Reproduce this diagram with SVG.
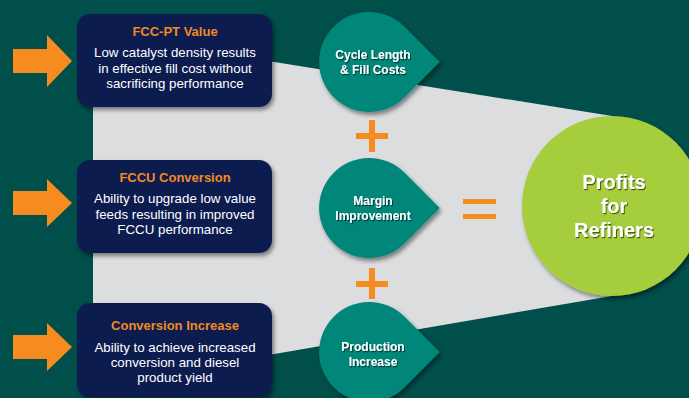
<svg xmlns="http://www.w3.org/2000/svg" width="689" height="398" viewBox="0 0 689 398">
  <defs>
    <filter id="shadow" x="-20%" y="-20%" width="150%" height="150%">
      <feDropShadow dx="2" dy="3" stdDeviation="2" flood-color="#000" flood-opacity="0.45"/>
    </filter>
    <filter id="tshadow" x="-10%" y="-30%" width="130%" height="170%">
      <feDropShadow dx="1" dy="1.2" stdDeviation="0.6" flood-color="#000" flood-opacity="0.6"/>
    </filter>
    <style>
      .box { fill: #0b1d4f; filter: url(#shadow); }
      .title { font-family: "Liberation Sans", Arial, sans-serif; font-size: 13px; font-weight: bold; fill: #f08a24; text-anchor: middle; }
      .body { font-family: "Liberation Sans", Arial, sans-serif; font-size: 13.3px; fill: #ffffff; text-anchor: middle; }
      .drop { fill: #00877a; filter: url(#shadow); }
      .dtext { font-family: "Liberation Sans", Arial, sans-serif; font-size: 12px; font-weight: bold; fill: #ffffff; text-anchor: middle; filter: url(#tshadow); }
      .ptext { font-family: "Liberation Sans", Arial, sans-serif; font-size: 20px; font-weight: bold; fill: #ffffff; text-anchor: middle; filter: url(#tshadow); }
      .arrow { fill: #f68b1f; }
      .op { fill: #f68b1f; }
    </style>
  </defs>

  <!-- background -->
  <rect x="0" y="0" width="689" height="398" fill="#004f4b"/>
  <!-- funnel -->
  <polygon points="93,33 612,116 612,296 93,385" fill="#dcdddf"/>

  <!-- connectors: input arrows -->
  <g id="connectors">
    <polygon class="arrow" points="13,49 47,49 47,35 72,61 47,87 47,73 13,73"/>
    <polygon class="arrow" points="13,191 47,191 47,179 72,203 47,227 47,215 13,215"/>
    <polygon class="arrow" points="13,335 47,335 47,323 72,347 47,371 47,359 13,359"/>
  </g>

  <!-- operators -->
  <g id="operators">
    <rect class="op" x="356" y="133" width="32" height="6"/>
    <rect class="op" x="369" y="120" width="6" height="32"/>
    <rect class="op" x="356" y="281" width="32" height="6"/>
    <rect class="op" x="369" y="268" width="6" height="31"/>
    <rect class="op" x="463" y="199" width="33" height="5"/>
    <rect class="op" x="463" y="214" width="33" height="5"/>
  </g>

  <!-- boxes -->
  <g id="box-fccpt">
    <rect class="box" x="77" y="14" width="195" height="93" rx="13"/>
    <text class="title" x="175" y="36">FCC-PT Value</text>
    <text class="body" x="175" y="57">Low catalyst density results</text>
    <text class="body" x="175" y="73">in effective fill cost without</text>
    <text class="body" x="175" y="88">sacrificing performance</text>
  </g>
  <g id="box-fccu">
    <rect class="box" x="77" y="160" width="195" height="93" rx="13"/>
    <text class="title" x="175" y="182">FCCU Conversion</text>
    <text class="body" x="175" y="203">Ability to upgrade low value</text>
    <text class="body" x="175" y="219">feeds resulting in improved</text>
    <text class="body" x="175" y="234">FCCU performance</text>
  </g>
  <g id="box-conversion">
    <rect class="box" x="77" y="303" width="195" height="94" rx="13"/>
    <text class="title" x="175" y="330">Conversion Increase</text>
    <text class="body" x="175" y="352">Ability to achieve increased</text>
    <text class="body" x="175" y="367">conversion and diesel</text>
    <text class="body" x="175" y="382">product yield</text>
  </g>

  <!-- teardrops -->
  <g id="drop-cycle">
    <path class="drop" d="M439.7,62 L404.4,26.6 A50,50 0 1 0 404.4,97.4 Z"/>
    <text class="dtext" x="373" y="59">Cycle Length</text>
    <text class="dtext" x="373" y="74">&amp; Fill Costs</text>
  </g>
  <g id="drop-margin">
    <path class="drop" d="M439.7,208 L404.4,172.6 A50,50 0 1 0 404.4,243.4 Z"/>
    <text class="dtext" x="373" y="205">Margin</text>
    <text class="dtext" x="373" y="220">Improvement</text>
  </g>
  <g id="drop-production">
    <path class="drop" d="M439.7,352 L404.4,316.6 A50,50 0 1 0 404.4,387.4 Z"/>
    <text class="dtext" x="373" y="351">Production</text>
    <text class="dtext" x="373" y="366">Increase</text>
  </g>

  <!-- result -->
  <g id="profits">
    <circle cx="612" cy="206" r="90" fill="#a6cd3a" filter="url(#shadow)"/>
    <text class="ptext" x="614" y="189">Profits</text>
    <text class="ptext" x="614" y="213">for</text>
    <text class="ptext" x="614" y="237">Refiners</text>
  </g>
</svg>
